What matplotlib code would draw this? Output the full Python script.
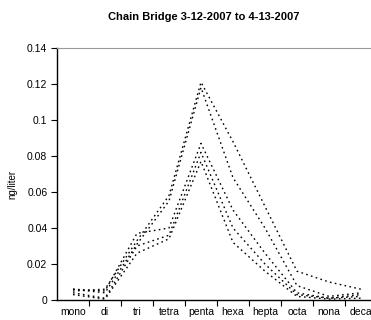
import matplotlib
matplotlib.use('Agg')
import matplotlib.pyplot as plt

plt.rcParams['font.family'] = ['Liberation Sans', 'DejaVu Sans']

congeneres = ['mono', 'di', 'tri', 'tetra', 'penta', 'hexa', 'hepta', 'octa', 'nona', 'deca']

# concentraciones por muestra (ng/liter)
muestra_1 = [0.005, 0.006, 0.033, 0.058, 0.121, 0.088, 0.052, 0.016, 0.010, 0.006]
muestra_2 = [0.006, 0.004, 0.031, 0.055, 0.118, 0.068, 0.040, 0.008, 0.002, 0.004]
muestra_3 = [0.006, 0.005, 0.037, 0.040, 0.087, 0.050, 0.026, 0.004, 0.001, 0.003]
muestra_4 = [0.004, 0.001, 0.030, 0.036, 0.082, 0.040, 0.020, 0.003, 0.001, 0.002]
muestra_5 = [0.003, 0.0005, 0.026, 0.034, 0.077, 0.032, 0.016, 0.002, 0.0005, 0.001]

muestras = [muestra_1, muestra_2, muestra_3, muestra_4, muestra_5]

fig = plt.figure(figsize=(3.71, 3.2), dpi=100)
ax = fig.add_axes([0.1536, 0.0625, 0.8625, 0.7875])

x = list(range(len(congeneres)))
for m in muestras:
    ax.plot(x, m, color='black', linestyle=(0, (1.2, 2.4)), linewidth=1.0)

ax.set_xlim(-0.5, len(congeneres) - 0.5)
ax.set_ylim(0, 0.14)
ax.set_yticks([0, 0.02, 0.04, 0.06, 0.08, 0.1, 0.12, 0.14])
ax.set_yticklabels(['0', '0.02', '0.04', '0.06', '0.08', '0.1', '0.12', '0.14'])
ax.set_xticks(x)
ax.set_xticklabels(congeneres)
ax.set_xticks([i + 0.5 for i in x], minor=True)
ax.tick_params(axis='x', which='major', length=0, labelsize=7.5, pad=5)
ax.tick_params(axis='x', which='minor', length=4, width=0.8, direction='out')
ax.tick_params(axis='y', length=4, width=0.8, direction='out', labelsize=7.5, pad=3)

ax.spines['top'].set_color('#999999')
ax.spines['right'].set_visible(False)
ax.spines['left'].set_linewidth(1.0)
ax.spines['bottom'].set_linewidth(1.0)

ax.set_ylabel('ng/liter', fontsize=7, labelpad=8)
ax.yaxis.set_label_coords(-0.125, 0.46)
fig.text(0.55, 0.947, 'Chain Bridge 3-12-2007 to 4-13-2007', ha='center', va='center',
         fontsize=8, fontweight='bold')

plt.savefig('out.png', dpi=100)
